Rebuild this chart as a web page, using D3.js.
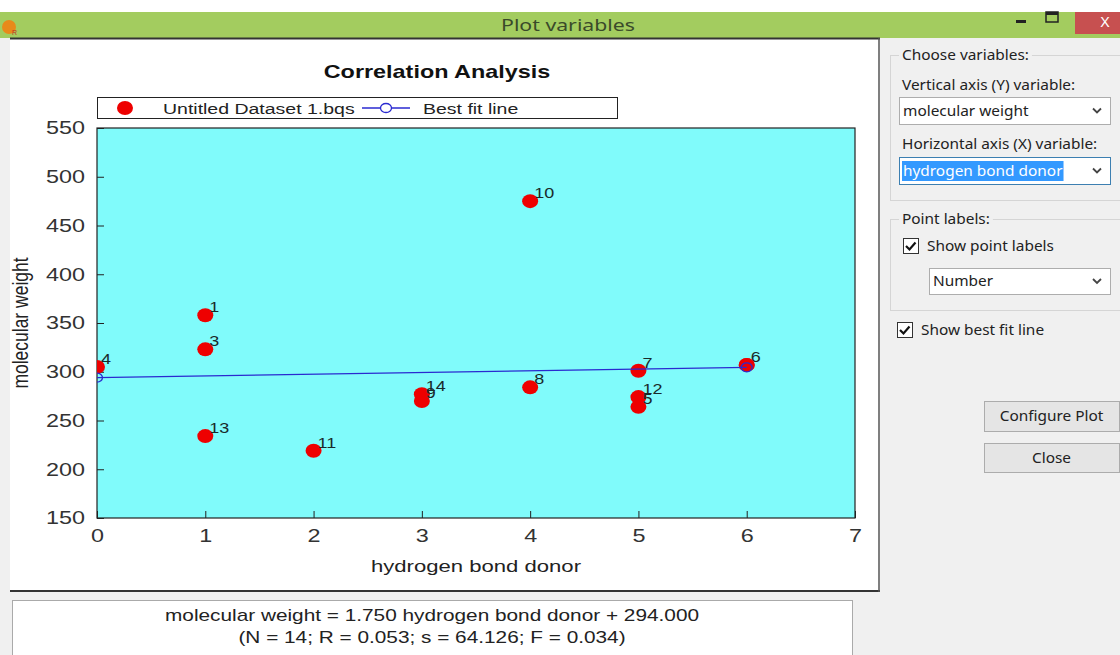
<!DOCTYPE html>
<html><head><meta charset="utf-8">
<script src="https://cdn.jsdelivr.net/npm/d3@7"></script>
<style>
html,body{margin:0;padding:0;background:#fff;}
svg{display:block;}
</style></head>
<body>
<script>
// ---- data ----
const pointLabels = ["1","2","3","4","5","6","7","8","9","10","11","12","13","14"];
const xValues = [1, 6, 1, 0, 5, 6, 5, 4, 3, 4, 2, 5, 1, 3];
const yValues = [358, 307, 323, 305, 264, 307, 301, 284, 270, 475, 219, 274, 234, 277];
const xTicks = [0,1,2,3,4,5,6,7];
const yTicks = [150,200,250,300,350,400,450,500,550];
const fitSlope = 1.750, fitIntercept = 294.000;
const fitXRange = [0, 6];
const statsLines = ["molecular weight = 1.750 hydrogen bond donor + 294.000",
                    "(N = 14; R = 0.053; s = 64.126; F = 0.034)"];

const W = 1120, H = 655;
const svg = d3.select("body").append("svg").attr("width", W).attr("height", H);
const chartFont = "'Liberation Sans', Arial, sans-serif";
const uiFont = "'Noto Sans', 'Open Sans', sans-serif";
const SX = 1.3;   // horizontal stretch of the captured screen text
const USX = 1.1;

// stretched text helper
function T(parent, x, y, str, o = {}) {
  return parent.append("text")
    .attr("transform", `translate(${x},${y}) scale(${o.sx || SX},1)`)
    .attr("text-anchor", o.anchor || "start")
    .attr("font-family", o.font || chartFont)
    .attr("font-size", o.size || 15)
    .attr("font-weight", o.weight || "normal")
    .attr("fill", o.fill || "#222")
    .text(str);
}

// window background
svg.append("rect").attr("x",0).attr("y",0).attr("width",W).attr("height",H).attr("fill","#f0f0f0");
svg.append("rect").attr("x",0).attr("y",0).attr("width",W).attr("height",12).attr("fill","#fff");
// title bar
svg.append("rect").attr("x",0).attr("y",12).attr("width",W).attr("height",26).attr("fill","#a3cc5f");
T(svg, 568, 31, "Plot variables", {anchor:"middle", font:uiFont, size:17, sx:1.25, fill:"#3a4a2a"});
// app icon
svg.append("circle").attr("cx",9).attr("cy",27).attr("r",7).attr("fill","#e88a1a");
svg.append("text").attr("x",12).attr("y",35).attr("font-size",7).attr("fill","#c03020").attr("font-family",chartFont).text("R");
// min / max / close
svg.append("rect").attr("x",1016).attr("y",20).attr("width",10).attr("height",3).attr("fill","#222");
svg.append("rect").attr("x",1046).attr("y",12).attr("width",12).attr("height",10).attr("fill","none").attr("stroke","#222").attr("stroke-width",1.5);
svg.append("rect").attr("x",1046).attr("y",12).attr("width",12).attr("height",3).attr("fill","#222");
svg.append("rect").attr("x",1075).attr("y",12).attr("width",45).attr("height",22).attr("fill","#c75050");
T(svg, 1105, 27, "X", {anchor:"middle", font:uiFont, size:14, sx:1.1, fill:"#fff"});

// chart panel
svg.append("rect").attr("x",10).attr("y",38).attr("width",870).attr("height",554).attr("fill","#fff");
svg.append("line").attr("x1",10).attr("x2",880).attr("y1",38.5).attr("y2",38.5).attr("stroke","#333").attr("stroke-width",2);
svg.append("line").attr("x1",10).attr("x2",880).attr("y1",591).attr("y2",591).attr("stroke","#333").attr("stroke-width",2);
svg.append("line").attr("x1",879).attr("x2",879).attr("y1",38).attr("y2",592).attr("stroke","#555").attr("stroke-width",1.5);

// title
T(svg, 437, 78, "Correlation Analysis", {anchor:"middle", size:18, weight:"bold", fill:"#111"});

// legend
const lg = svg.append("g");
lg.append("rect").attr("x",97.5).attr("y",97.5).attr("width",520).attr("height",21).attr("fill","#fff").attr("stroke","#222");
lg.append("ellipse").attr("cx",125).attr("cy",108).attr("rx",8).attr("ry",7).attr("fill","#ee0000");
T(lg, 163, 114, "Untitled Dataset 1.bqs", {size:15});
lg.append("line").attr("x1",362).attr("x2",410).attr("y1",108).attr("y2",108).attr("stroke","#2a2ad0").attr("stroke-width",1.3);
lg.append("ellipse").attr("cx",386).attr("cy",108).attr("rx",5.5).attr("ry",4.5).attr("fill","#fff").attr("stroke","#2a2ad0").attr("stroke-width",1.3);
T(lg, 423, 114, "Best fit line", {size:15});

// plot area
const pl = 97, pr = 855, pt = 128, pb = 518;
const x = d3.scaleLinear().domain([0,7]).range([pl,pr]);
const y = d3.scaleLinear().domain([150,550]).range([pb,pt]);

svg.append("defs").append("clipPath").attr("id","clip").append("rect")
  .attr("x",pl).attr("y",pt).attr("width",pr-pl).attr("height",pb-pt);
svg.append("rect").attr("x",pl).attr("y",pt).attr("width",pr-pl).attr("height",pb-pt).attr("fill","#80fbfb");

// axes with inward ticks
const yAxis = d3.axisLeft(y).tickValues(yTicks).tickSize(-7).tickFormat(d3.format("d"));
const gy = svg.append("g").attr("transform",`translate(${pl},0)`).call(yAxis);
gy.select(".domain").remove();
gy.selectAll("text").attr("font-family",chartFont).attr("font-size",18).attr("fill","#333")
  .attr("x", -12 / SX).attr("transform", `scale(${SX},1)`);
gy.selectAll("line").attr("stroke","#222");
const xAxis = d3.axisBottom(x).tickValues(xTicks).tickSize(-7).tickPadding(11).tickFormat(d3.format("d"));
const gx = svg.append("g").attr("transform",`translate(0,${pb})`).call(xAxis);
gx.select(".domain").remove();
gx.selectAll("text").attr("font-family",chartFont).attr("font-size",18).attr("fill","#333")
  .attr("transform", `scale(${SX},1)`);
gx.selectAll("line").attr("stroke","#222");

svg.append("rect").attr("x",pl).attr("y",pt).attr("width",pr-pl).attr("height",pb-pt).attr("fill","none").attr("stroke","#222").attr("stroke-width",1.2);

// axis titles
svg.append("text").attr("transform",`translate(28,${(pt+pb)/2}) rotate(-90) scale(1,${SX})`).attr("text-anchor","middle")
  .attr("font-family",chartFont).attr("font-size",17.5).attr("fill","#222").text("molecular weight");
T(svg, (pl+pr)/2, 572, "hydrogen bond donor", {anchor:"middle", size:17});

// points
const pts = pointLabels.map((l,i)=>({label:l, x:xValues[i], y:yValues[i]}));
const plotG = svg.append("g").attr("clip-path","url(#clip)");

// best fit line
const fitPts = fitXRange.map(v=>({x:v, y:fitIntercept+fitSlope*v}));
plotG.selectAll("ellipse.pt").data(pts).enter().append("ellipse").attr("class","pt")
  .attr("cx",d=>x(d.x)).attr("cy",d=>y(d.y)).attr("rx",8).attr("ry",7).attr("fill","#ee0000");
plotG.append("path").datum(fitPts).attr("d",d3.line().x(d=>x(d.x)).y(d=>y(d.y)))
  .attr("stroke","#2a2ad0").attr("stroke-width",1.3).attr("fill","none");
plotG.selectAll("ellipse.fit").data(fitPts).enter().append("ellipse").attr("class","fit")
  .attr("cx",d=>x(d.x)).attr("cy",d=>y(d.y)).attr("rx",5.5).attr("ry",4.5).attr("fill","none").attr("stroke","#2a2ad0").attr("stroke-width",1.3);

// labels: only one label per exact location (later point hides earlier duplicate)
const seen = new Set();
const labeled = pts.slice().reverse().filter(d=>{const k=d.x+"_"+d.y; if(seen.has(k)) return false; seen.add(k); return true;});
const labG = svg.append("g");
labeled.forEach(d => T(labG, x(d.x)+4, y(d.y)-3, d.label, {size:15, sx:1.2, fill:"#1a2a2a"}));

// stats box
svg.append("rect").attr("x",12.5).attr("y",600.5).attr("width",840).attr("height",60).attr("fill","#fff").attr("stroke","#aaa");
statsLines.forEach((s,i)=>{
  T(svg, 432, 621+i*22, s, {anchor:"middle", size:16});
});

// right panel controls
const ui = svg.append("g");
function UT(x0, y0, str, o = {}) {
  return T(ui, x0, y0, str, Object.assign({font:uiFont, size:14, sx:USX, fill:"#222"}, o));
}
function groupBox(x0,y0,w,h,label){
  ui.append("rect").attr("x",x0+0.5).attr("y",y0+0.5).attr("width",w).attr("height",h).attr("fill","none").attr("stroke","#d5d5d5");
  const bgr = ui.append("rect").attr("fill","#f0f0f0");
  const t = UT(x0+12, y0+5, label);
  const bb = t.node().getBBox();
  bgr.attr("x",x0+9).attr("y",y0-2).attr("width",bb.width*USX+6).attr("height",5);
}
function combo(x0,y0,w,h,text,sel){
  ui.append("rect").attr("x",x0+0.5).attr("y",y0+0.5).attr("width",w).attr("height",h).attr("fill","#fff").attr("stroke",sel?"#3c7fb1":"#adadad");
  if(sel){
    const bgr = ui.append("rect").attr("fill","#3399ff");
    const t = UT(x0+4, y0+h/2+5, text, {fill:"#fff"});
    const bb = t.node().getBBox();
    bgr.attr("x",x0+3).attr("y",y0+4).attr("width",bb.width*USX+2).attr("height",h-7);
  } else {
    UT(x0+4, y0+h/2+5, text);
  }
  ui.append("path").attr("d",`M${x0+w-17},${y0+h/2-2} l4,4 l4,-4`).attr("fill","none").attr("stroke","#444").attr("stroke-width",1.8);
}
function checkbox(x0,y0,label){
  ui.append("rect").attr("x",x0+0.5).attr("y",y0+0.5).attr("width",15).attr("height",15).attr("fill","#fff").attr("stroke","#333");
  ui.append("path").attr("d",`M${x0+3},${y0+8} l3.5,3.5 l6,-7`).attr("fill","none").attr("stroke","#111").attr("stroke-width",2.2);
  UT(x0+24, y0+13, label);
}
groupBox(890,55,240,145,"Choose variables:");
UT(902, 90, "Vertical axis (Y) variable:");
combo(899,97,211,27,"molecular weight",false);
UT(902, 149, "Horizontal axis (X) variable:");
combo(899,157,211,27,"hydrogen bond donor",true);
groupBox(890,219,240,91,"Point labels:");
checkbox(903,238,"Show point labels");
combo(929,268,181,26,"Number",false);
checkbox(897,322,"Show best fit line");
function button(x0,y0,w,h,label){
  ui.append("rect").attr("x",x0+0.5).attr("y",y0+0.5).attr("width",w).attr("height",h).attr("fill","#e5e5e5").attr("stroke","#acacac");
  UT(x0+w/2, y0+h/2+5, label, {anchor:"middle"});
}
button(984,401,135,30,"Configure Plot");
button(984,443,135,29,"Close");
</script>
</body></html>
